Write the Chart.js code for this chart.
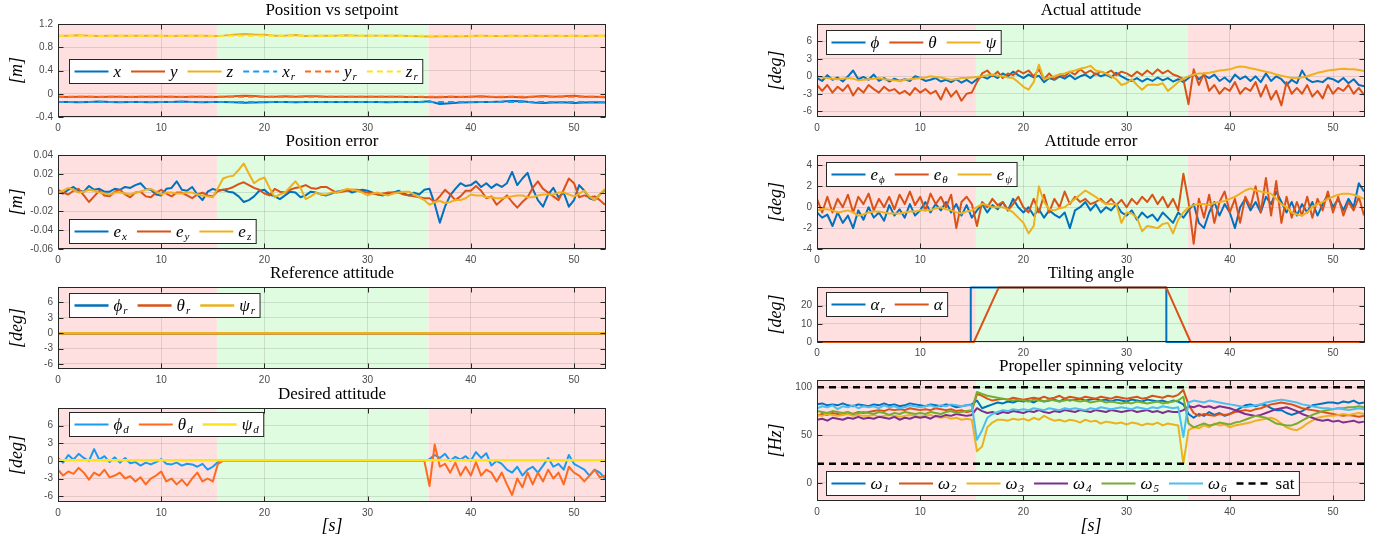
<!DOCTYPE html>
<html>
<head>
<meta charset="utf-8">
<script src="https://cdn.jsdelivr.net/npm/chart.js"></script>
<style>
  html, body { margin: 0; padding: 0; background: #ffffff; width: 1385px; height: 537px; overflow: hidden; }
  canvas { position: absolute; }
</style>
</head>
<body>
<canvas id="posSet"></canvas>
<canvas id="posErr"></canvas>
<canvas id="refAtt"></canvas>
<canvas id="desAtt"></canvas>
<canvas id="actAtt"></canvas>
<canvas id="attErr"></canvas>
<canvas id="tilt"></canvas>
<canvas id="prop"></canvas>
<script>
// ---------- time bases ----------
const tEnd = 53.1;
const t1 = Array.from({ length: 54 }, (_, i) => i);         // 1 s samples
const t05 = Array.from({ length: 107 }, (_, i) => i / 2);   // 0.5 s samples
const tConst = [0, tEnd];

// flight phases: fixed arms / tilted arms / fixed arms
const phaseBounds = [0, 15.4, 35.9, tEnd];

// ---------- tick values ----------
const xTicks = [0, 10, 20, 30, 40, 50];
const posTicks = [-0.4, 0, 0.4, 0.8, 1.2];
const posErrTicks = [-0.06, -0.04, -0.02, 0, 0.02, 0.04];
const attTicks = [-6, -3, 0, 3, 6];
const attErrTicks = [-4, -2, 0, 2, 4];
const tiltTicks = [0, 10, 20];
const propTicks = [0, 50, 100];

// ---------- position vs setpoint [m] (1 s) ----------
const posX = [
  -0.14,-0.14,-0.145,-0.14,-0.135,-0.14,-0.145,-0.14,-0.14,-0.145,
  -0.14,-0.14,-0.135,-0.14,-0.145,-0.14,-0.14,-0.145,-0.155,-0.15,
  -0.145,-0.14,-0.14,-0.145,-0.14,-0.14,-0.14,-0.14,-0.14,-0.14,
  -0.14,-0.14,-0.145,-0.14,-0.14,-0.14,-0.13,-0.175,-0.165,-0.15,
  -0.145,-0.14,-0.14,-0.135,-0.125,-0.13,-0.15,-0.16,-0.15,-0.145,
  -0.16,-0.15,-0.145,-0.15];
const posY = [
  -0.05,-0.055,-0.05,-0.05,-0.055,-0.05,-0.05,-0.055,-0.05,-0.05,
  -0.05,-0.05,-0.055,-0.05,-0.05,-0.055,-0.05,-0.045,-0.035,-0.04,
  -0.05,-0.05,-0.045,-0.05,-0.045,-0.045,-0.05,-0.05,-0.05,-0.05,
  -0.05,-0.05,-0.05,-0.05,-0.055,-0.055,-0.06,-0.06,-0.05,-0.055,
  -0.05,-0.045,-0.055,-0.06,-0.05,-0.065,-0.05,-0.04,-0.05,-0.045,
  -0.035,-0.05,-0.05,-0.06];
const posZ = [
  1.0,1.0,1.005,1.0,0.995,1.0,1.0,1.0,1.0,1.0,
  1.0,0.995,1.0,1.0,1.0,0.995,1.0,1.015,1.03,1.02,
  1.015,1.0,1.0,1.01,0.995,1.0,1.0,1.0,1.005,1.0,
  0.997,1.0,1.0,1.0,0.995,0.99,0.985,0.99,0.99,0.99,
  0.995,1.0,0.995,0.995,1.0,0.995,1.0,0.995,1.0,0.995,
  1.0,0.995,1.0,1.0];
const posXr = [-0.14, -0.14];
const posYr = [-0.05, -0.05];
const posZr = [1.0, 1.0];

// ---------- position error [m] (0.5 s) ----------
const errX = [
  0,-0.001,0.003,0.006,0.002,0.001,0.007,0.003,0.004,0.001,
  0.001,0.004,0.003,0.006,0.005,0.008,0.010,0.004,0.003,-0.002,
  -0.003,0.004,0.005,0.012,0.003,0.002,0.006,-0.002,-0.008,0.001,
  0.004,0.002,0.003,0.001,0.000,-0.004,-0.010,-0.008,-0.004,0.002,
  0.003,-0.002,-0.004,-0.007,-0.003,0.001,0.000,-0.005,-0.003,0.001,
  0.000,-0.002,-0.003,-0.001,0.001,0.002,0.003,0.000,0.002,0.003,
  0.002,0.000,-0.002,-0.003,-0.001,0.000,0.002,-0.001,-0.003,0.000,
  -0.002,0.003,0.004,-0.012,-0.032,-0.015,-0.003,0.004,0.010,0.007,
  0.008,0.012,0.006,0.010,0.005,0.009,0.006,0.010,0.022,0.008,
  0.015,0.021,0.004,-0.008,-0.015,-0.002,0.005,-0.005,0.000,-0.015,
  -0.008,0.008,0.002,-0.006,-0.008,-0.002,0.003];
const errY = [
  0.003,0.000,-0.002,0.002,0.004,-0.003,-0.010,-0.004,0.002,-0.003,
  -0.004,0.001,0.003,-0.002,-0.005,0.000,0.001,-0.004,-0.005,0.000,
  0.003,-0.001,-0.004,0.000,0.000,-0.003,-0.006,-0.002,0.000,-0.003,
  -0.004,0.002,0.003,0.004,0.006,0.009,0.011,0.008,0.005,0.003,
  -0.001,-0.003,0.004,0.001,0.000,0.003,0.005,0.006,0.008,0.005,
  0.004,0.006,0.006,0.003,0.000,0.001,0.002,0.003,0.003,0.001,
  0.000,-0.001,-0.002,-0.001,0.000,0.000,0.000,-0.002,-0.003,-0.004,
  -0.005,-0.006,-0.006,-0.010,-0.004,0.003,-0.002,-0.008,-0.004,0.002,
  0.002,0.007,0.002,-0.006,-0.004,-0.013,-0.008,-0.003,-0.010,-0.016,
  -0.010,-0.005,0.005,0.012,0.004,0.000,-0.004,-0.008,0.003,0.015,
  0.010,-0.005,-0.003,-0.005,-0.004,-0.008,-0.013];
const errZ = [
  0.000,0.002,0.005,0.003,0.000,0.001,0.003,0.002,0.000,-0.001,
  -0.002,0.000,0.000,-0.001,-0.002,0.000,0.001,0.003,0.004,0.001,
  -0.002,0.000,0.000,-0.001,-0.001,0.000,0.000,-0.002,-0.003,-0.004,
  -0.005,0.005,0.015,0.017,0.018,0.024,0.031,0.020,0.010,0.014,
  0.016,0.005,-0.005,-0.002,0.000,0.006,0.012,0.005,-0.007,-0.004,
  0.000,-0.002,-0.002,0.000,0.000,0.002,0.004,0.003,0.002,0.000,
  -0.003,-0.001,0.000,-0.002,-0.003,-0.001,0.000,0.001,0.001,-0.002,
  -0.005,-0.008,-0.013,-0.010,-0.009,-0.011,-0.010,-0.008,-0.008,-0.006,
  -0.002,-0.003,-0.003,-0.005,-0.005,-0.006,-0.006,-0.005,-0.004,-0.003,
  -0.003,-0.005,-0.005,-0.003,-0.002,-0.002,-0.002,0.000,0.000,-0.002,
  -0.004,-0.001,0.002,-0.004,-0.008,-0.002,0.004];

// ---------- reference attitude [deg] ----------
const refPhi = [0, 0];
const refTheta = [0, 0];
const refPsi = [0, 0];

// ---------- desired attitude [deg] (0.5 s) ----------
const desPhi = [
  0.5,-0.3,1.0,0.2,1.2,0.5,0.0,2.0,0.2,0.8,
  -0.2,0.6,-0.3,0.5,-0.4,-0.2,-0.8,-0.3,-0.6,-0.2,
  0.3,-0.5,-0.6,-0.3,-0.8,-0.5,-0.6,-1.0,-0.5,-1.5,
  -1.0,-0.2,0,0,0,0,0,0,0,0,
  0,0,0,0,0,0,0,0,0,0,
  0,0,0,0,0,0,0,0,0,0,
  0,0,0,0,0,0,0,0,0,0,
  0,0,0.3,1.0,0.5,1.2,0.0,0.7,0.2,0.8,
  0.0,1.5,0.5,1.3,-0.8,0.0,-0.5,-1.5,-2.0,-1.0,
  -2.5,-1.5,-1.0,-2.0,-0.8,0.5,-1.0,-0.5,-1.5,1.0,
  -0.5,-1.0,-1.5,-2.5,-1.5,-2.0,-3.0];
const desTheta = [
  -1.5,-2.5,-1.8,-2.2,-1.2,-2.0,-3.2,-2.0,-2.5,-1.5,
  -2.8,-2.5,-2.0,-3.0,-2.6,-3.5,-2.8,-4.0,-3.0,-2.5,
  -1.8,-3.5,-3.0,-4.0,-3.2,-4.2,-3.0,-2.0,-3.5,-3.0,
  -3.5,-0.5,0,0,0,0,0,0,0,0,
  0,0,0,0,0,0,0,0,0,0,
  0,0,0,0,0,0,0,0,0,0,
  0,0,0,0,0,0,0,0,0,0,
  0,0,-4.3,2.8,-1.0,-0.5,-2.0,-0.3,-2.5,-1.0,
  -2.5,-0.2,-2.5,-1.5,-2.0,-3.5,-2.0,-4.0,-5.8,-3.0,
  -4.5,-2.0,-4.0,-2.0,-3.5,-1.5,-3.0,-2.0,-4.0,-1.0,
  -2.0,-2.5,-3.5,-2.5,-1.5,-2.8,-2.5];
const desPsi = [0.1, 0.1];

// ---------- actual attitude [deg] (0.5 s) ----------
const attPhi = [
  -0.3,-0.8,0.2,-0.6,-0.2,-0.9,0.0,1.0,-0.5,-0.1,
  -0.6,0.3,-0.8,-0.3,-0.9,-0.4,-0.8,-0.5,-0.8,0.0,
  -0.3,-0.8,-0.6,-0.3,-0.9,-0.6,-1.0,-0.5,-1.1,-0.6,
  -1.2,-0.5,0.0,-0.4,0.2,-0.3,0.5,0.0,0.8,0.2,
  -0.3,0.3,-0.2,0.1,-1.0,-0.3,-0.6,0.0,-0.4,0.2,
  -0.5,0.0,0.3,-0.3,0.5,0.0,0.3,-0.2,0.6,0.0,
  -0.5,-0.8,-0.3,-0.9,-0.4,-0.8,-0.2,-0.7,-0.3,-0.9,
  -0.5,-1.0,-0.3,0.5,-0.5,0.2,-0.3,0.3,-0.8,-0.2,
  -1.0,0.3,-0.5,0.0,-0.8,0.0,-1.0,0.5,-0.8,0.0,
  -0.5,-1.5,-0.6,-1.2,1.0,-0.5,-1.0,-0.8,-1.0,-0.3,
  -0.5,-1.0,-0.3,-1.2,-0.5,-1.5,-1.7];
const attTheta = [
  -1.5,-2.5,-1.5,-2.8,-1.8,-2.5,-1.5,-3.3,-2.0,-2.8,
  -1.5,-2.2,-2.8,-1.8,-2.5,-2.2,-3.0,-2.5,-3.2,-2.0,
  -2.8,-2.2,-3.0,-2.5,-4.0,-2.0,-3.5,-2.5,-4.2,-3.0,
  -2.8,-1.0,0.5,1.0,0.0,0.8,-0.3,0.5,0.2,1.0,
  0.5,1.0,0.0,1.2,-0.5,0.5,-0.5,0.3,0.0,0.8,
  0.3,1.2,0.5,1.0,0.3,0.8,0.5,1.0,0.2,0.8,
  0.5,0.0,0.8,0.2,1.0,0.3,1.2,0.5,1.0,0.3,
  0.0,-0.5,-4.8,1.2,-1.5,0.5,-2.5,-1.5,-3.0,-2.0,
  -2.5,-1.0,-3.0,-2.0,-2.5,-1.0,-3.5,-1.5,-4.0,-2.5,
  -5.0,-1.0,-3.0,-2.0,-3.0,-1.5,-3.5,-2.5,-3.8,-1.5,
  -3.0,-2.0,-2.5,-1.5,-3.0,-2.0,-3.2];
const attPsi = [
  0.0,-0.2,-0.3,-0.4,-0.5,-0.4,-0.3,-0.4,-0.7,-0.6,
  -0.5,-0.4,-0.3,-0.5,-0.6,-0.7,-0.8,-0.6,-0.5,-0.4,
  -0.3,-0.2,0.0,-0.1,-0.2,-0.4,-0.6,-0.5,-0.3,-0.3,
  -0.2,-0.1,0.0,0.2,0.3,0.1,0.0,-0.2,-0.3,-1.0,
  -1.8,-2.3,-1.0,2.0,-0.5,-0.2,0.0,0.3,0.5,0.8,
  1.0,1.3,1.5,1.8,1.0,0.8,0.5,0.0,-0.5,-1.5,
  -1.2,-0.5,-1.5,-2.3,-1.5,-1.4,-1.5,-1.2,-2.5,-1.8,
  -1.0,-0.4,0.0,0.3,0.5,0.5,0.6,0.8,1.0,1.1,
  1.2,1.5,1.7,1.6,1.4,1.2,1.0,0.8,0.6,0.3,
  0.1,-0.1,-0.3,-0.3,-0.2,0.0,0.3,0.6,0.8,1.0,
  1.1,1.2,1.3,1.2,1.2,1.1,0.9];

// ---------- attitude error [deg] (0.5 s) ----------
const attErrPhi = [
  -0.5,-1.0,-0.7,-1.8,-0.5,-1.5,-0.8,-2.0,-0.3,-1.2,
  0.0,-1.0,-0.5,-1.3,0.2,-0.8,-0.2,-1.0,0.3,-0.8,
  -0.3,0.5,-0.5,0.3,-0.3,0.5,-0.5,0.3,-0.8,0.2,
  -1.0,-0.3,0.3,-0.5,0.2,-0.2,0.5,-0.3,0.8,0.0,
  -0.5,0.0,-0.8,-0.2,-1.0,-0.3,-0.7,-1.0,-0.5,-2.0,
  -0.3,0.0,0.5,-0.3,0.3,-0.5,0.0,-0.3,0.3,-0.5,
  -0.8,-0.3,-1.2,-0.5,-1.0,-0.7,-1.3,-0.5,-1.0,-1.5,
  -0.5,-1.0,-0.3,0.3,-1.5,-2.0,-0.5,0.5,-0.8,0.3,
  -0.5,-2.0,0.0,0.8,-0.3,0.5,-0.5,1.0,0.3,1.5,
  0.5,-0.5,0.5,-0.8,0.3,-0.5,0.5,-0.8,0.3,1.2,
  0.0,0.8,-0.3,0.8,0.0,2.3,1.5];
const attErrTheta = [
  0.8,-0.5,1.0,-0.5,0.8,0.0,1.2,-0.5,1.0,0.3,
  1.3,-0.3,0.8,0.0,1.0,-0.2,1.2,0.3,1.5,0.2,
  1.0,-0.3,1.3,0.3,1.0,0.0,1.2,-2.0,0.5,1.0,
  0.3,-1.8,0.5,0.0,0.8,0.2,0.5,-0.3,0.3,1.0,
  0.0,-0.5,0.8,-0.5,1.2,-0.5,0.8,0.0,1.5,0.3,
  1.0,0.5,0.8,0.3,0.5,0.8,0.3,0.8,0.2,0.7,
  0.0,0.8,0.3,1.0,0.5,1.2,0.3,1.0,0.0,0.8,
  -0.3,3.2,0.5,-3.5,0.8,-1.0,1.2,-1.5,0.5,1.5,
  -0.5,0.8,-1.5,1.0,0.0,2.0,-0.5,2.8,-0.8,2.5,
  -1.5,1.0,-1.0,0.5,-0.8,1.0,-1.0,0.8,-0.3,1.5,
  -0.5,1.0,-0.8,0.5,-0.3,1.0,-0.8];
const attErrPsi = [
  -0.3,-0.2,-0.2,-0.3,-0.5,-0.4,-0.3,-0.5,-0.8,-0.7,
  -0.5,-0.4,-0.4,-0.5,-0.6,-0.6,-0.6,-0.5,-0.4,-0.4,
  -0.3,-0.3,-0.3,-0.1,0.0,-0.2,-0.3,-0.5,-0.6,-0.4,
  -0.3,0.0,0.3,0.2,0.0,0.0,0.0,-0.2,-0.5,-1.0,
  -1.5,-2.5,-1.8,2.0,0.5,-0.2,-0.3,-0.1,0.0,0.4,
  0.8,1.2,1.6,1.3,1.0,0.6,0.3,0.3,0.3,-1.5,
  -0.5,-0.6,-1.0,-2.3,-1.8,-1.9,-2.0,-1.6,-1.5,-2.5,
  -1.2,-0.5,0.0,0.2,0.3,0.3,0.2,0.4,0.5,0.6,
  0.8,1.0,1.3,1.6,1.8,1.6,1.5,1.4,1.3,0.8,
  0.3,0.0,-0.5,-0.7,-0.8,-0.5,0.0,0.3,0.5,0.8,
  1.0,1.2,1.3,1.3,1.2,1.0,0.8];

// ---------- tilting angle [deg] (breakpoints) ----------
const alphaRefT = [0, 14.9, 14.9, 33.85, 33.85, tEnd];
const alphaRef = [0, 0, 30, 30, 0, 0];
const alphaT = [0, 15.2, 17.6, 33.85, 36.2, tEnd];
const alpha = [0, 0, 30, 30, 0, 0];

// ---------- propeller spinning velocity [Hz] (0.5 s) ----------
const omega1 = [
  82,83,81,82,81,83,81,80,82,81,
  80,82,81,83,81,82,80,81,83,82,
  81,80,82,81,80,82,81,79,80,81,
  82,86,78,80,82,84,83,85,84,86,
  85,86,84,87,85,86,87,85,88,86,
  87,88,86,87,88,86,87,85,87,86,
  85,87,86,85,87,86,85,86,84,86,
  85,82,72,68,72,70,74,71,73,70,
  72,75,78,81,82,80,82,81,78,76,
  76,73,71,73,75,78,81,82,83,84,
  84,83,85,84,86,83,84];
const omega2 = [
  70,72,71,73,72,71,73,72,74,73,
  74,75,76,75,77,76,77,76,78,77,
  76,77,76,78,77,76,77,75,76,74,
  75,93,91,88,86,87,88,87,89,88,
  87,88,89,88,90,88,89,91,88,90,
  89,88,90,89,88,90,89,88,90,89,
  88,89,90,88,89,91,90,89,91,90,
  92,97,82,73,70,72,71,70,72,71,
  72,74,75,76,75,77,78,80,82,83,
  84,83,82,80,78,77,76,75,74,73,
  72,71,70,71,70,69,70];
const omega3 = [
  71,70,72,71,70,71,72,70,71,70,
  70,71,69,70,71,70,69,70,71,70,
  69,70,71,69,68,69,67,68,66,67,
  66,33,38,58,63,66,66,65,67,66,
  67,65,68,66,70,67,65,66,64,66,
  65,63,66,64,65,62,64,63,62,63,
  61,63,62,60,62,61,63,60,62,61,
  60,20,55,58,57,60,58,62,60,61,
  58,60,61,62,63,65,66,67,68,66,
  62,58,56,55,58,62,65,68,69,70,
  70,71,72,71,72,73,72];
const omega4 = [
  66,67,65,68,67,66,68,67,69,67,
  68,67,69,68,67,69,66,68,67,69,
  68,69,67,70,69,71,70,72,71,70,
  71,78,75,73,74,72,74,73,75,74,
  73,75,74,76,74,73,75,74,76,75,
  74,76,75,74,76,75,74,76,75,74,
  75,76,74,75,76,74,75,73,75,74,
  74,76,80,79,81,79,80,78,80,79,
  78,76,74,72,71,70,71,73,75,77,
  78,79,77,75,72,70,68,66,65,66,
  64,65,63,64,65,63,64];
const omega5 = [
  75,74,73,75,74,73,74,72,73,74,
  73,72,74,73,71,73,72,74,73,72,
  73,72,74,73,72,74,75,73,74,75,
  76,95,93,91,90,89,88,87,86,87,
  86,85,87,86,85,87,86,85,86,87,
  86,85,86,84,85,86,84,85,84,83,
  84,83,85,84,83,84,85,83,84,85,
  86,90,62,58,60,62,60,61,63,62,
  61,63,64,66,68,70,69,68,65,62,
  61,60,60,62,65,68,71,73,75,76,
  77,78,78,79,79,80,79];
const omega6 = [
  78,80,79,81,77,80,79,81,78,80,
  79,80,78,81,79,80,78,79,81,80,
  79,80,81,79,81,80,82,81,80,81,
  81,45,55,68,72,74,76,75,77,76,
  77,76,78,77,76,78,77,76,78,77,
  78,77,76,78,77,79,78,77,78,79,
  78,77,79,78,77,79,78,80,79,78,
  79,48,84,86,85,84,86,85,84,83,
  82,81,80,79,80,81,82,84,85,86,
  87,86,85,84,82,81,80,79,78,78,
  77,78,77,76,77,78,77];
const satHigh = [100, 100];
const satLow = [20, 20];

// ---------- styling ----------
const serif = "'Liberation Serif', 'DejaVu Serif', serif";
const sans = "'Liberation Sans', Arial, sans-serif";
const C = {
  blue: '#0072BD', red: '#D95319', gold: '#EDB120', purple: '#7E2F8E',
  green: '#77AC30', cyan: '#4DBEEE', lightBlue: '#1A9BF0', orange: '#FF6A1F',
  yellow: '#FFE31A', black: '#000000'
};
const phaseFills = ['rgb(255,224,224)', 'rgb(224,252,224)', 'rgb(255,224,224)'];
const gridColor = 'rgba(38,38,38,0.13)';
const frameColor = '#262626';
const tickColor = '#4a4a4a';

const LEFT = { canvasLeft: 0, canvasW: 620, axisW: 58, padRight: 14, yTitlePad: 6 };
const RIGHT = { canvasLeft: 760, canvasW: 620, axisW: 57, padRight: 15, yTitlePad: 5 };
const TITLE_H = 22;

function fmt(v) { return String(Math.round(v * 10000) / 10000); }

function line(key, xs, ys, color, extra) {
  return Object.assign({
    legendKey: key,
    data: xs.map((x, i) => ({ x: x, y: ys[i] })),
    borderColor: color, backgroundColor: color,
    borderWidth: 2, pointRadius: 0, tension: 0, fill: false,
    borderJoinStyle: 'round'
  }, extra || {});
}

function drawLegend(chart, L) {
  if (!L) return;
  const { ctx, chartArea: a } = chart;
  const items = chart.data.datasets.filter(d => d.legendKey);
  const token = 34, gapT = 5, gapI = 10, pad = 5, h = 24;
  const baseFont = 'italic 17px ' + serif, subFont = 'italic 11px ' + serif, upFont = '17px ' + serif;
  ctx.save();
  const widths = items.map(d => {
    const [b, s, up] = d.legendKey;
    ctx.font = up ? upFont : baseFont;
    let w = ctx.measureText(b).width;
    if (s) { ctx.font = subFont; w += ctx.measureText(s).width + 1; }
    return w;
  });
  const total = pad * 2 + items.length * (token + gapT) + widths.reduce((p, c) => p + c, 0) + gapI * (items.length - 1);
  const x0 = Math.round(a.left + L.dx) + 0.5, y0 = Math.round(a.top + L.dy) + 0.5;
  ctx.fillStyle = '#ffffff';
  ctx.fillRect(x0, y0, total, h);
  ctx.strokeStyle = frameColor; ctx.lineWidth = 1; ctx.setLineDash([]);
  ctx.strokeRect(x0, y0, total, h);
  let x = x0 + pad;
  const cy = y0 + h / 2;
  items.forEach((d, i) => {
    ctx.beginPath();
    ctx.setLineDash(d.borderDash || []);
    ctx.strokeStyle = d.borderColor; ctx.lineWidth = d.borderWidth;
    ctx.moveTo(x, cy); ctx.lineTo(x + token, cy); ctx.stroke();
    ctx.setLineDash([]);
    x += token + gapT;
    const [b, s, up] = d.legendKey;
    ctx.fillStyle = '#000'; ctx.textAlign = 'left'; ctx.textBaseline = 'alphabetic';
    ctx.font = up ? upFont : baseFont;
    ctx.fillText(b, x, cy + 5);
    let w = ctx.measureText(b).width;
    if (s) { ctx.font = subFont; ctx.fillText(s, x + w + 1, cy + 8); }
    x += widths[i] + gapI;
  });
  ctx.restore();
}

// shaded phases under the grid, boxed frame with inward ticks, boxed legend on top
const matlabAxes = {
  id: 'matlabAxes',
  beforeDraw(chart) {
    const { ctx, chartArea: a } = chart; const xs = chart.scales.x;
    ctx.save();
    ctx.fillStyle = '#ffffff';
    ctx.fillRect(a.left, a.top, a.width, a.height);
    for (let i = 0; i < phaseBounds.length - 1; i++) {
      const x0 = Math.max(a.left, xs.getPixelForValue(phaseBounds[i]));
      const x1 = Math.min(a.right, xs.getPixelForValue(phaseBounds[i + 1]));
      ctx.fillStyle = phaseFills[i];
      ctx.fillRect(x0, a.top, x1 - x0, a.height);
    }
    ctx.restore();
  },
  afterDatasetsDraw(chart) {
    const { ctx, chartArea: a, scales } = chart;
    ctx.save();
    ctx.strokeStyle = frameColor; ctx.lineWidth = 1; ctx.setLineDash([]);
    const L = Math.round(a.left) + 0.5, R = Math.round(a.right) - 0.5;
    const T = Math.round(a.top) + 0.5, B = Math.round(a.bottom) - 0.5;
    ctx.beginPath();
    scales.x.ticks.forEach(t => {
      const p = Math.round(scales.x.getPixelForValue(t.value)) + 0.5;
      ctx.moveTo(p, B); ctx.lineTo(p, B - 5); ctx.moveTo(p, T); ctx.lineTo(p, T + 5);
    });
    scales.y.ticks.forEach(t => {
      const p = Math.round(scales.y.getPixelForValue(t.value)) + 0.5;
      ctx.moveTo(L, p); ctx.lineTo(L + 5, p); ctx.moveTo(R, p); ctx.lineTo(R - 5, p);
    });
    ctx.stroke();
    ctx.strokeRect(L, T, R - L, B - T);
    ctx.restore();
  },
  afterDraw(chart, _args, opts) { drawLegend(chart, opts.legend); }
};
Chart.register(matlabAxes);

function panel(id, col, p) {
  const el = document.getElementById(id);
  const plotH = p.bottom - p.top;
  const xh = p.xTitle ? (537 - p.bottom) : 20;
  const h = TITLE_H + plotH + xh;
  el.width = col.canvasW; el.height = h;
  el.style.left = col.canvasLeft + 'px';
  el.style.top = (p.top - TITLE_H) + 'px';
  el.style.width = col.canvasW + 'px'; el.style.height = h + 'px';
  p.datasets.forEach((d, i) => { d.order = -i; });
  return new Chart(el, {
    type: 'line',
    data: { datasets: p.datasets },
    options: {
      responsive: false, animation: false, devicePixelRatio: 1,
      events: [],
      layout: { padding: { left: 0, right: col.padRight, top: 0, bottom: 0 } },
      plugins: {
        legend: { display: false },
        tooltip: { enabled: false },
        title: {
          display: true, text: p.title, fullSize: false, color: '#000',
          font: { family: serif, size: 17, lineHeight: 1, weight: 'normal' },
          padding: { top: 0, bottom: 5 }
        },
        matlabAxes: { legend: p.legend }
      },
      scales: {
        x: {
          type: 'linear', min: 0, max: tEnd,
          afterBuildTicks: s => { s.ticks = xTicks.map(v => ({ value: v })); },
          afterFit: s => { s.height = xh; },
          grid: { color: gridColor, drawTicks: false },
          border: { display: false },
          ticks: { padding: 5, color: tickColor, font: { family: sans, size: 10 }, maxRotation: 0, autoSkip: false, callback: fmt },
          title: p.xTitle
            ? { display: true, text: p.xTitle, color: '#000', font: { family: serif, size: 18, style: 'italic', lineHeight: 1.2 }, padding: { top: 0, bottom: 0 } }
            : { display: false }
        },
        y: {
          type: 'linear', min: p.yMin, max: p.yMax,
          afterBuildTicks: s => { s.ticks = p.yTicks.map(v => ({ value: v })); },
          afterFit: s => { s.width = col.axisW; },
          grid: { color: gridColor, drawTicks: false },
          border: { display: false },
          ticks: { padding: 5, color: tickColor, font: { family: sans, size: 10 }, autoSkip: false, callback: fmt },
          title: { display: true, text: p.yTitle, color: '#000', font: { family: serif, size: 18, style: 'italic', lineHeight: 1.2 }, padding: { top: col.yTitlePad, bottom: 0 } }
        }
      }
    }
  });
}

const dash = { borderDash: [6, 4] };

panel('posSet', LEFT, {
  top: 24, bottom: 117, title: 'Position vs setpoint', yTitle: '[m]',
  yMin: -0.4, yMax: 1.2, yTicks: posTicks, legend: { dx: 11, dy: 35 },
  datasets: [
    line(['x'], t1, posX, C.blue),
    line(['y'], t1, posY, C.red),
    line(['z'], t1, posZ, C.gold),
    line(['x', 'r'], tConst, posXr, C.lightBlue, dash),
    line(['y', 'r'], tConst, posYr, C.orange, dash),
    line(['z', 'r'], tConst, posZr, C.yellow, dash)
  ]
});

panel('posErr', LEFT, {
  top: 155, bottom: 249, title: 'Position error', yTitle: '[m]',
  yMin: -0.06, yMax: 0.04, yTicks: posErrTicks, legend: { dx: 11, dy: 64 },
  datasets: [
    line(['e', 'x'], t05, errX, C.blue),
    line(['e', 'y'], t05, errY, C.red),
    line(['e', 'z'], t05, errZ, C.gold)
  ]
});

panel('refAtt', LEFT, {
  top: 287, bottom: 369, title: 'Reference attitude', yTitle: '[deg]',
  yMin: -7, yMax: 9, yTicks: attTicks, legend: { dx: 11, dy: 6 },
  datasets: [
    line(['ϕ', 'r'], tConst, refPhi, C.blue, { borderWidth: 2.5 }),
    line(['θ', 'r'], tConst, refTheta, C.red, { borderWidth: 2.5 }),
    line(['ψ', 'r'], tConst, refPsi, C.gold, { borderWidth: 2.5 })
  ]
});

panel('desAtt', LEFT, {
  top: 408, bottom: 502, title: 'Desired attitude', yTitle: '[deg]', xTitle: '[s]',
  yMin: -7, yMax: 9, yTicks: attTicks, legend: { dx: 11, dy: 4 },
  datasets: [
    line(['ϕ', 'd'], t05, desPhi, C.lightBlue),
    line(['θ', 'd'], t05, desTheta, C.orange),
    line(['ψ', 'd'], tConst, desPsi, C.yellow, { borderWidth: 2.5 })
  ]
});

panel('actAtt', RIGHT, {
  top: 24, bottom: 117, title: 'Actual attitude', yTitle: '[deg]',
  yMin: -7, yMax: 9, yTicks: attTicks, legend: { dx: 9, dy: 6 },
  datasets: [
    line(['ϕ'], t05, attPhi, C.blue),
    line(['θ'], t05, attTheta, C.red),
    line(['ψ'], t05, attPsi, C.gold)
  ]
});

panel('attErr', RIGHT, {
  top: 155, bottom: 249, title: 'Attitude error', yTitle: '[deg]',
  yMin: -4, yMax: 5, yTicks: attErrTicks, legend: { dx: 9, dy: 7 },
  datasets: [
    line(['e', 'ϕ'], t05, attErrPhi, C.blue),
    line(['e', 'θ'], t05, attErrTheta, C.red),
    line(['e', 'ψ'], t05, attErrPsi, C.gold)
  ]
});

panel('tilt', RIGHT, {
  top: 287, bottom: 342, title: 'Tilting angle', yTitle: '[deg]',
  yMin: 0, yMax: 30.3, yTicks: tiltTicks, legend: { dx: 9, dy: 5 },
  datasets: [
    line(['α', 'r'], alphaRefT, alphaRef, C.blue, { clip: 3 }),
    line(['α'], alphaT, alpha, C.red, { clip: 3 })
  ]
});

panel('prop', RIGHT, {
  top: 380, bottom: 501, title: 'Propeller spinning velocity', yTitle: '[Hz]', xTitle: '[s]',
  yMin: -19, yMax: 107.5, yTicks: propTicks, legend: { dx: 9, dy: 91 },
  datasets: [
    line(['ω', '1'], t05, omega1, C.blue),
    line(['ω', '2'], t05, omega2, C.red),
    line(['ω', '3'], t05, omega3, C.gold),
    line(['ω', '4'], t05, omega4, C.purple),
    line(['ω', '5'], t05, omega5, C.green),
    line(['ω', '6'], t05, omega6, C.cyan),
    line(['sat', '', true], tConst, satHigh, C.black, { borderDash: [7, 5], borderWidth: 2.5 }),
    line(null, tConst, satLow, C.black, { borderDash: [7, 5], borderWidth: 2.5 })
  ]
});
</script>
</body>
</html>
